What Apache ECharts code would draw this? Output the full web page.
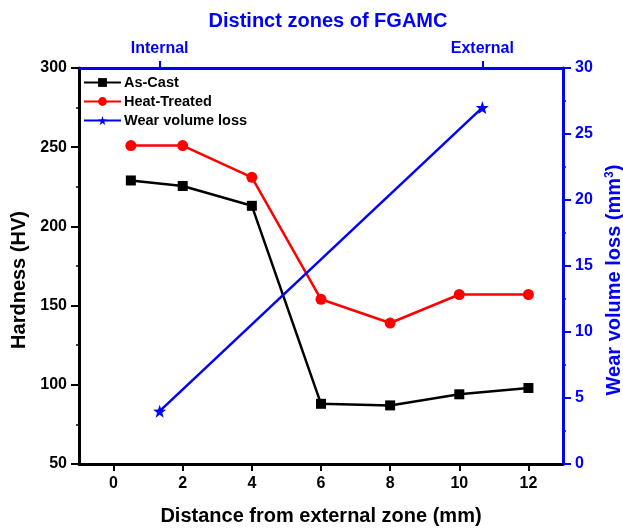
<!DOCTYPE html>
<html>
<head>
<meta charset="utf-8">
<script src="https://cdn.jsdelivr.net/npm/echarts@6/dist/echarts.min.js"></script>
<style>
  html, body { margin: 0; padding: 0; background: #fff; }
  #chart { width: 623px; height: 528px; }
</style>
</head>
<body>
<div id="chart"></div>
<script>
// Hardness profiles across the graded casting (mm from external zone)
const distance = [0.5, 2, 4, 6, 8, 10, 12];
const asCast = [229, 225.5, 213, 88, 87, 94, 98];
const heatTreated = [251, 251, 231, 154, 139, 157, 157];

// Wear volume loss for the two zones (top axis: 1 = Internal, 3 = External)
const zonePos = [1, 3];
const zoneNames = { 1: 'Internal', 3: 'External' };
const wearLoss = [4.0, 27.0];

const xTicks = [0, 2, 4, 6, 8, 10, 12];

const FONT = '"Liberation Sans", Arial, sans-serif';
const BLUE = '#0000ff';

const chart = echarts.init(document.getElementById('chart'), null, { renderer: 'canvas' });

const labelStyle = (color, size) => ({
  color: color, fontFamily: FONT, fontWeight: 'bold', fontSize: size
});

chart.setOption({
  animation: false,
  backgroundColor: '#fff',
  title: {
    text: 'Distinct zones of FGAMC',
    left: 323, top: 6, textAlign: 'center',
    textStyle: { color: BLUE, fontFamily: FONT, fontWeight: 'bold', fontSize: 20 }
  },
  legend: {
    orient: 'vertical',
    left: 83, top: 75, padding: 0,
    itemWidth: 37, itemHeight: 11, itemGap: 4,
    textStyle: { color: '#000', fontFamily: FONT, fontWeight: 'bold', fontSize: 14.5, padding: [0, 0, 0, -2] },
    data: ['As-Cast', 'Heat-Treated', 'Wear volume loss']
  },
  grid: { left: 79, right: 60, top: 68, bottom: 64, containLabel: false, outerBoundsMode: 'none' },
  xAxis: [
    {
      type: 'value', min: -1, max: 13, interval: 2,
      position: 'bottom',
      name: 'Distance from external zone (mm)',
      nameLocation: 'middle', nameGap: 42,
      nameTextStyle: { color: '#000', fontFamily: FONT, fontWeight: 'bold', fontSize: 20 },
      axisLine: { show: true, onZero: false, lineStyle: { color: '#000', width: 3 } },
      axisTick: { show: true, inside: false, length: 7, lineStyle: { color: '#000', width: 2 },
                  customValues: xTicks },
      minorTick: { show: true, splitNumber: 2, length: 3, lineStyle: { color: '#000', width: 1.5 } },
      axisLabel: Object.assign(labelStyle('#000', 16), { margin: 12, customValues: xTicks }),
      splitLine: { show: false }
    },
    {
      type: 'value', min: 0.5, max: 3.5,
      position: 'top',
      axisLine: { show: true, onZero: false, lineStyle: { color: BLUE, width: 3 } },
      axisTick: { show: true, inside: false, length: 7, lineStyle: { color: BLUE, width: 2 },
                  customValues: zonePos },
      minorTick: { show: false },
      axisLabel: Object.assign(labelStyle(BLUE, 16), {
        margin: 11, customValues: zonePos,
        formatter: (v) => zoneNames[v] || ''
      }),
      splitLine: { show: false }
    }
  ],
  yAxis: [
    {
      type: 'value', min: 50, max: 300, interval: 50,
      position: 'left',
      name: 'Hardness (HV)',
      nameLocation: 'middle', nameGap: 50, nameRotate: 90,
      nameTextStyle: { color: '#000', fontFamily: FONT, fontWeight: 'bold', fontSize: 20, padding: [0, 28, 0, 0] },
      axisLine: { show: true, onZero: false, lineStyle: { color: '#000', width: 3 } },
      axisTick: { show: true, inside: false, length: 8, lineStyle: { color: '#000', width: 2 } },
      minorTick: { show: true, splitNumber: 2, length: 3, lineStyle: { color: '#000', width: 1.5 } },
      axisLabel: Object.assign(labelStyle('#000', 16), { margin: 12 }),
      splitLine: { show: false }
    },
    {
      type: 'value', min: 0, max: 30, interval: 5,
      position: 'right',
      name: 'Wear volume loss (mm{sup|3})',
      nameLocation: 'middle', nameGap: 40, nameRotate: 90,
      nameTextStyle: {
        color: BLUE, fontFamily: FONT, fontWeight: 'bold', fontSize: 20, padding: [0, 28, 0, 0],
        rich: { sup: { color: BLUE, fontFamily: FONT, fontWeight: 'bold', fontSize: 12, verticalAlign: 'bottom', padding: [0, 0, 9, 0] } }
      },
      axisLine: { show: true, onZero: false, lineStyle: { color: BLUE, width: 3 } },
      axisTick: { show: true, inside: false, length: 8, lineStyle: { color: BLUE, width: 2 } },
      minorTick: { show: true, splitNumber: 2, length: 3, lineStyle: { color: BLUE, width: 1.5 } },
      axisLabel: Object.assign(labelStyle(BLUE, 16), { margin: 12 }),
      splitLine: { show: false }
    }
  ],
  series: [
    {
      name: 'As-Cast', type: 'line', xAxisIndex: 0, yAxisIndex: 0,
      data: distance.map((d, i) => [d, asCast[i]]),
      symbol: 'rect', symbolSize: 10,
      itemStyle: { color: '#000' },
      lineStyle: { color: '#000', width: 2.5 }
    },
    {
      name: 'Heat-Treated', type: 'line', xAxisIndex: 0, yAxisIndex: 0,
      data: distance.map((d, i) => [d, heatTreated[i]]),
      symbol: 'circle', symbolSize: 11,
      itemStyle: { color: '#ff0000' },
      lineStyle: { color: '#ff0000', width: 2.5 }
    },
    {
      name: 'Wear volume loss', type: 'line', xAxisIndex: 1, yAxisIndex: 1,
      data: zonePos.map((p, i) => [p, wearLoss[i]]),
      symbol: 'path://M0,-10 L2.35,-3.24 L9.51,-3.09 L3.8,1.24 L5.88,8.09 L0,4 L-5.88,8.09 L-3.8,1.24 L-9.51,-3.09 L-2.35,-3.24 Z',
      symbolSize: 13,
      itemStyle: { color: BLUE },
      lineStyle: { color: BLUE, width: 2.5 }
    }
  ]
});
</script>
</body>
</html>
